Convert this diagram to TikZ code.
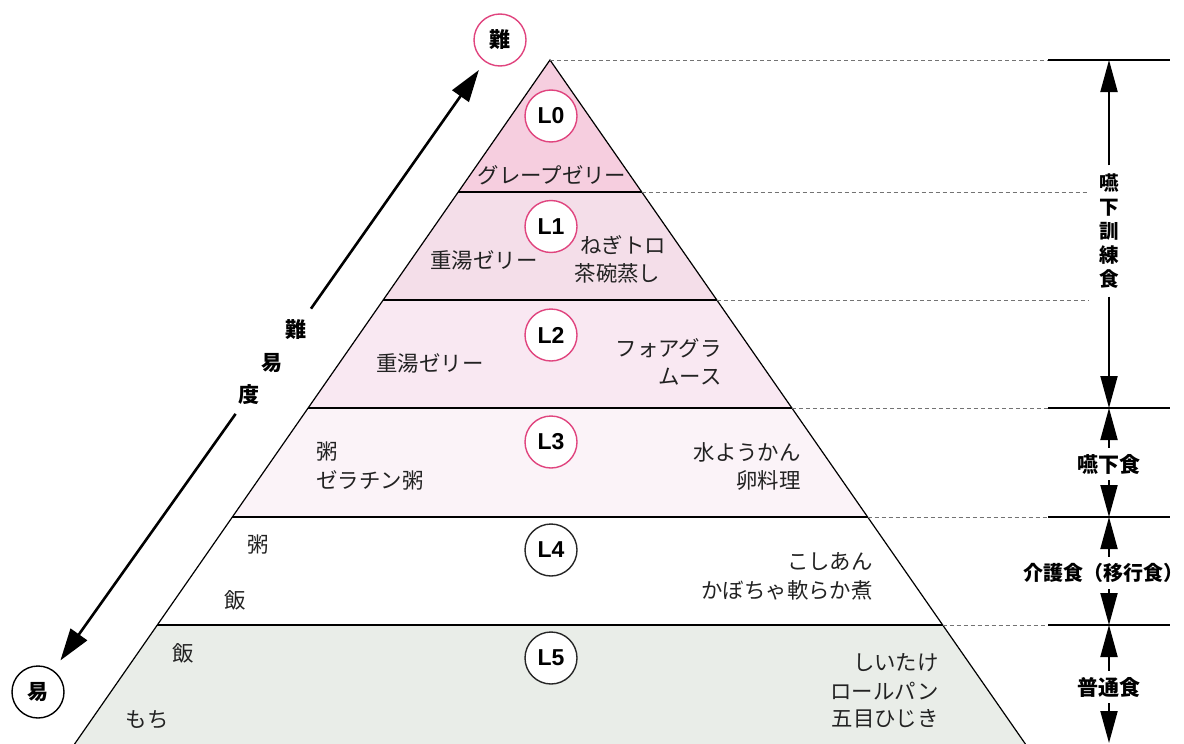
\documentclass[tikz,border=0pt]{standalone}
\usepackage{fontspec}
\newfontfamily\jp{Noto Sans CJK JP}
\newfontfamily\lat{Liberation Sans}
\usetikzlibrary{arrows.meta}
\definecolor{pk}{HTML}{E0447E}
\definecolor{c0}{HTML}{F6CEDF}
\definecolor{c1}{HTML}{F4DEE9}
\definecolor{c2}{HTML}{F9E8F2}
\definecolor{c3}{HTML}{FBF3F8}
\definecolor{c5}{HTML}{E9EDE8}
\definecolor{txt}{HTML}{222222}
\begin{document}
\begin{tikzpicture}[x=0.5pt,y=-0.5pt,
  lvl/.style={circle,draw=pk,fill=white,line width=0.7pt,minimum size=26pt,inner sep=0pt,font=\lat\bfseries\fontsize{11.5}{11.5}\selectfont},
  lvlk/.style={lvl,draw=black!85},
  food/.style={inner sep=0pt,font=\jp\fontsize{10.7}{12}\selectfont,text=txt},
  cat/.style={inner sep=3pt,font=\jp\bfseries\fontsize{10.5}{12}\selectfont},
  vcat/.style={inner sep=4pt,align=center,font=\jp\bfseries\fontsize{9.8}{12}\selectfont},
  pole/.style={circle,fill=white,line width=0.7pt,minimum size=26pt,inner sep=0pt,font=\jp\bfseries\fontsize{10.5}{12}\selectfont},
  guide/.style={draw=black!55,line width=0.4pt,dash pattern=on 2pt off 1.5pt},
  tickline/.style={line width=1pt},
  varr/.style={-{Triangle[length=16pt,width=8.5pt]},line width=1pt},
  darr/.style={-{Triangle[length=16pt,width=10pt]},line width=1.3pt},
  edgeline/.style={line width=0.6pt}
]
\useasboundingbox (0,0) rectangle (1184,744);
% pyramid corner coordinates
\coordinate (apex) at (550,60);
\coordinate (l1) at (458.3,192); \coordinate (r1) at (641.7,192);
\coordinate (l2) at (383.2,300); \coordinate (r2) at (716.8,300);
\coordinate (l3) at (308.1,408); \coordinate (r3) at (791.9,408);
\coordinate (l4) at (232.4,517); \coordinate (r4) at (867.6,517);
\coordinate (l5) at (157.3,625); \coordinate (r5) at (942.7,625);
\coordinate (l6) at (74.6,744);  \coordinate (r6) at (1025.4,744);
\begin{scope}
\clip (0,0) rectangle (1184,744);
\fill[c0] (apex) -- (r1) -- (l1) -- cycle;
\fill[c1] (l1) -- (r1) -- (r2) -- (l2) -- cycle;
\fill[c2] (l2) -- (r2) -- (r3) -- (l3) -- cycle;
\fill[c3] (l3) -- (r3) -- (r4) -- (l4) -- cycle;
\fill[c5] (l5) -- (r5) -- (r6) -- (l6) -- cycle;
\draw[edgeline] (l6) -- (apex) -- (r6);
\draw[edgeline] (l1) -- (r1);
\draw[edgeline] (l2) -- (r2);
\draw[edgeline] (l3) -- (r3);
\draw[edgeline] (l4) -- (r4);
\draw[edgeline] (l5) -- (r5);
\end{scope}
% guides and ticks
\coordinate (k0) at (1109,60);
\coordinate (k3) at (1109,408);
\coordinate (k4) at (1109,517);
\coordinate (k5) at (1109,625);
\coordinate (kb) at (1109,743);
\draw[guide] (apex) -- (1048,60);
\draw[guide] (r1) -- (1088,192);
\draw[guide] (r2) -- (1088,300);
\draw[guide] (r3) -- (1048,408);
\draw[guide] (r4) -- (1048,517);
\draw[guide] (r5) -- (1048,625);
\draw[tickline] (1048,60) -- (1170,60);
\draw[tickline] (1048,408) -- (1170,408);
\draw[tickline] (1048,517) -- (1170,517);
\draw[tickline] (1048,625) -- (1170,625);
% right category labels
\node[vcat] (v1) at (1109,231) {嚥\\下\\訓\\練\\食};
\node[cat] (v2) at (1109,464) {嚥下食};
\node[cat,inner xsep=0pt,font=\jp\bfseries\fontsize{10}{12}\selectfont] (v3) at (1103.5,573) {介護食（移行食）};
\node[cat] (v4) at (1109,687) {普通食};
\draw[varr] (v1.north) -- (k0);
\draw[varr] (v1.south) -- (k3);
\draw[varr] (v2.north) -- (k3);
\draw[varr] (v2.south) -- (k4);
\draw[varr] (k4 |- v3.north) -- (k4);
\draw[varr] (k5 |- v3.south) -- (k5);
\draw[varr] (v4.north) -- (k5);
\draw[varr] (v4.south) -- (kb);
% difficulty axis
\node[pole,draw=pk] (hard) at (500,40) {難};
\node[pole,draw=black] (easy) at (38,692) {易};
\node[cat] (d1) at (296,330) {難};
\node[cat] (d2) at (272,363) {易};
\node[cat] (d3) at (249,395) {度};
\draw[darr,shorten <=3pt,shorten >=5pt] (d1) -- (hard);
\draw[darr,shorten <=1.5pt,shorten >=6pt] (d3) -- (easy);
% level circles
\node[lvl] (L0) at (551,116) {L0};
\node[lvl] (L1) at (551,226.5) {L1};
\node[lvl] (L2) at (551,335) {L2};
\node[lvl] (L3) at (551,442) {L3};
\node[lvlk] (L4) at (551,550) {L4};
\node[lvlk] (L5) at (551,658) {L5};
% foods
\node[food] (f0) at (552,175) {グレープゼリー};
\node[food] (f1a) at (484,260) {重湯ゼリー};
\node[food] (f1b) at (623,245) {ねぎトロ};
\node[food] (f1c) at (617.5,273) {茶碗蒸し};
\node[food] (f2a) at (430,363) {重湯ゼリー};
\node[food,anchor=east] (f2b) at (722,348) {フォアグラ};
\node[food,anchor=east] (f2c) at (722,377) {ムース};
\node[food,anchor=west] (f3a) at (316,452) {粥};
\node[food,anchor=west] (f3b) at (316,480) {ゼラチン粥};
\node[food,anchor=east] (f3c) at (801,452) {水ようかん};
\node[food,anchor=east] (f3d) at (801,480) {卵料理};
\node[food] (f4a) at (258,545) {粥};
\node[food] (f4b) at (235,600) {飯};
\node[food,anchor=east] (f4c) at (873,562) {こしあん};
\node[food,anchor=east] (f4d) at (873,590) {かぼちゃ軟らか煮};
\node[food] (f5a) at (183,653) {飯};
\node[food] (f5b) at (147,720) {もち};
\node[food,anchor=east] (f5c) at (939,663) {しいたけ};
\node[food,anchor=east] (f5d) at (939,691.5) {ロールパン};
\node[food,anchor=east] (f5e) at (939,718.5) {五目ひじき};
\end{tikzpicture}
\end{document}
